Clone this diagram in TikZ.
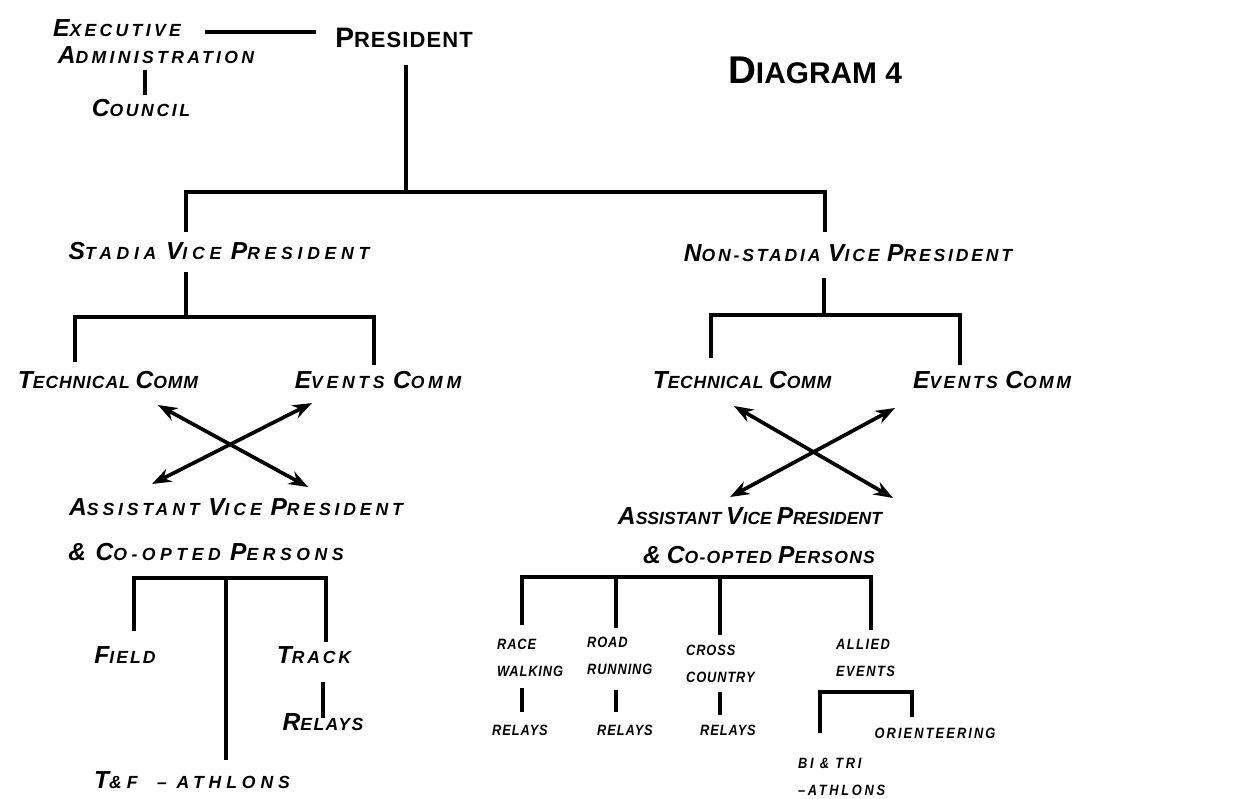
\documentclass[tikz,border=0pt]{standalone}
\usepackage{fontspec}
\setmainfont{Liberation Sans}
\usetikzlibrary{arrows.meta}
\newcommand\hw[2]{{\fontsize{14}{16}\selectfont #1}#2}
\begin{document}
\begin{tikzpicture}[x=0.02cm,y=-0.02cm,
  lbl/.style={font=\bfseries\itshape\fontsize{10}{12}\selectfont\addfontfeature{LetterSpace=#1}, inner sep=1pt},
  lbl/.default=6,
  sml/.style={font=\bfseries\itshape\fontsize{8.5}{15}\selectfont\addfontfeature{LetterSpace=#1,FakeStretch=0.86}, inner sep=1pt, align=left},
  sml/.default=6,
  ln/.style={line width=2.1pt},
  arr/.style={line width=2.1pt,{Stealth[length=11pt,width=8pt]}-{Stealth[length=11pt,width=8pt]}}]
\path[use as bounding box,fill=white] (0,0) rectangle (1236,798);

% ---- text nodes
\node[lbl=19] (exec) at (117,28) {\hw{E}{XECUTIVE}};
\node[lbl=19] (admin) at (156,55) {\hw{A}{DMINISTRATION}};
\node[lbl=15] (council) at (141,108) {\hw{C}{OUNCIL}};
\node[font=\bfseries\fontsize{12.5}{14}\selectfont\addfontfeature{LetterSpace=5}, inner sep=1pt] (pres) at (404,38) {{\fontsize{16}{18}\selectfont P}RESIDENT};
\node[font=\bfseries\fontsize{17}{19}\selectfont\addfontfeature{LetterSpace=0}, inner sep=1pt] (diag) at (815,70) {{\fontsize{22}{24}\selectfont D}IAGRAM 4};
\node[lbl=27] (svp) at (219,251) {\hw{S}{TADIA} \hw{V}{ICE} \hw{P}{RESIDENT}};
\node[lbl=16] (nsvp) at (848,253) {\hw{N}{ON-STADIA} \hw{V}{ICE} \hw{P}{RESIDENT}};
\node[lbl=5] (tc1) at (108,380) {\hw{T}{ECHNICAL} \hw{C}{OMM}};
\node[lbl=21] (ec1) at (378,380) {\hw{E}{VENTS} \hw{C}{OMM}};
\node[lbl=4] (tc2) at (742,380) {\hw{T}{ECHNICAL} \hw{C}{OMM}};
\node[lbl=14] (ec2) at (992,380) {\hw{E}{VENTS} \hw{C}{OMM}};
\node[lbl=22] (avp1) at (236,507) {\hw{A}{SSISTANT} \hw{V}{ICE} \hw{P}{RESIDENT}};
\node[lbl=26] (co1) at (206,552) {\hw{\&}{} \hw{C}{O-OPTED} \hw{P}{ERSONS}};
\node[lbl=0] (avp2) at (750,516) {\hw{A}{SSISTANT} \hw{V}{ICE} \hw{P}{RESIDENT}};
\node[lbl=7] (co2) at (759,555) {\hw{\&}{} \hw{C}{O-OPTED} \hw{P}{ERSONS}};
\node[lbl=12] (field) at (125,655) {\hw{F}{IELD}};
\node[lbl=16] (track) at (314,655) {\hw{T}{RACK}};
\node[lbl=8] (rel1) at (323,722) {\hw{R}{ELAYS}};
\node[lbl=28] (tf) at (192,780) {\hw{T}{\&F} \ -- ATHLONS};
\node[sml,anchor=west] (race) at (495,658) {RACE\\WALKING};
\node[sml,anchor=west] (road) at (585,656) {ROAD\\RUNNING};
\node[sml,anchor=west] (cross) at (684,664) {CROSS\\COUNTRY};
\node[sml=10,anchor=west] (allied) at (834,658) {ALLIED\\EVENTS};
\node[sml] (rel2) at (520,730) {RELAYS};
\node[sml] (rel3) at (625,730) {RELAYS};
\node[sml] (rel4) at (728,730) {RELAYS};
\node[sml=14] (orient) at (935,733) {ORIENTEERING};
\node[sml=18,anchor=west] (bitri) at (796,777) {BI \& TRI\\--ATHLONS};

% ---- junction coordinates
\coordinate (e1) at (205,32); \coordinate (e2) at (316,32);
\coordinate (k1) at (145,70); \coordinate (k2) at (145,95);
\coordinate (p1) at (406,65); \coordinate (p2) at (406,192);
\coordinate (b1l) at (186,192); \coordinate (b1r) at (825,192);
\coordinate (b1ld) at (186,232); \coordinate (b1rd) at (825,232);
\coordinate (s1) at (186,272); \coordinate (s2) at (186,317);
\coordinate (s2l) at (75,317); \coordinate (s2r) at (374,317);
\coordinate (s2ld) at (75,362); \coordinate (s2rd) at (374,365);
\coordinate (n1) at (824,278); \coordinate (n2) at (824,315);
\coordinate (n2l) at (711,315); \coordinate (n2r) at (960,315);
\coordinate (n2ld) at (711,358); \coordinate (n2rd) at (960,365);
\coordinate (la1) at (158,405); \coordinate (la2) at (308,487);
\coordinate (lb1) at (312,403); \coordinate (lb2) at (152,484);
\coordinate (ra1) at (734,406); \coordinate (ra2) at (893,498);
\coordinate (rb1) at (895,408); \coordinate (rb2) at (730,497);
\coordinate (a1l) at (134,578); \coordinate (a1r) at (326,578);
\coordinate (a1ld) at (134,631); \coordinate (a1rd) at (326,642);
\coordinate (a1m) at (226,578); \coordinate (a1md) at (226,760);
\coordinate (t1) at (323,682); \coordinate (t2) at (323,718);
\coordinate (a2l) at (522,577); \coordinate (a2r) at (871,577);
\coordinate (a2ld) at (522,625); \coordinate (a2rd) at (871,630);
\coordinate (a2m1) at (616,577); \coordinate (a2m1d) at (616,628);
\coordinate (a2m2) at (720,577); \coordinate (a2m2d) at (720,635);
\coordinate (r1a) at (522,688); \coordinate (r1b) at (522,712);
\coordinate (r2a) at (616,690); \coordinate (r2b) at (616,712);
\coordinate (r3a) at (720,692); \coordinate (r3b) at (720,715);
\coordinate (al1) at (820,692); \coordinate (al2) at (912,692);
\coordinate (al1d) at (820,733); \coordinate (al2d) at (912,717);

% ---- connectors
\draw[ln] (e1) -- (e2);
\draw[ln] (k1) -- (k2);
\draw[ln] (p1) -- (p2);
\draw[ln] (b1ld) -- (b1l) -- (b1r) -- (b1rd);
\draw[ln] (s1) -- (s2);
\draw[ln] (s2ld) -- (s2l) -- (s2r) -- (s2rd);
\draw[ln] (n1) -- (n2);
\draw[ln] (n2ld) -- (n2l) -- (n2r) -- (n2rd);
\draw[arr] (la1) -- (la2);
\draw[arr] (lb1) -- (lb2);
\draw[arr] (ra1) -- (ra2);
\draw[arr] (rb1) -- (rb2);
\draw[ln] (a1ld) -- (a1l) -- (a1r) -- (a1rd);
\draw[ln] (a1m) -- (a1md);
\draw[ln] (t1) -- (t2);
\draw[ln] (a2ld) -- (a2l) -- (a2r) -- (a2rd);
\draw[ln] (a2m1) -- (a2m1d);
\draw[ln] (a2m2) -- (a2m2d);
\draw[ln] (r1a) -- (r1b);
\draw[ln] (r2a) -- (r2b);
\draw[ln] (r3a) -- (r3b);
\draw[ln] (al1d) -- (al1) -- (al2) -- (al2d);
\end{tikzpicture}
\end{document}
